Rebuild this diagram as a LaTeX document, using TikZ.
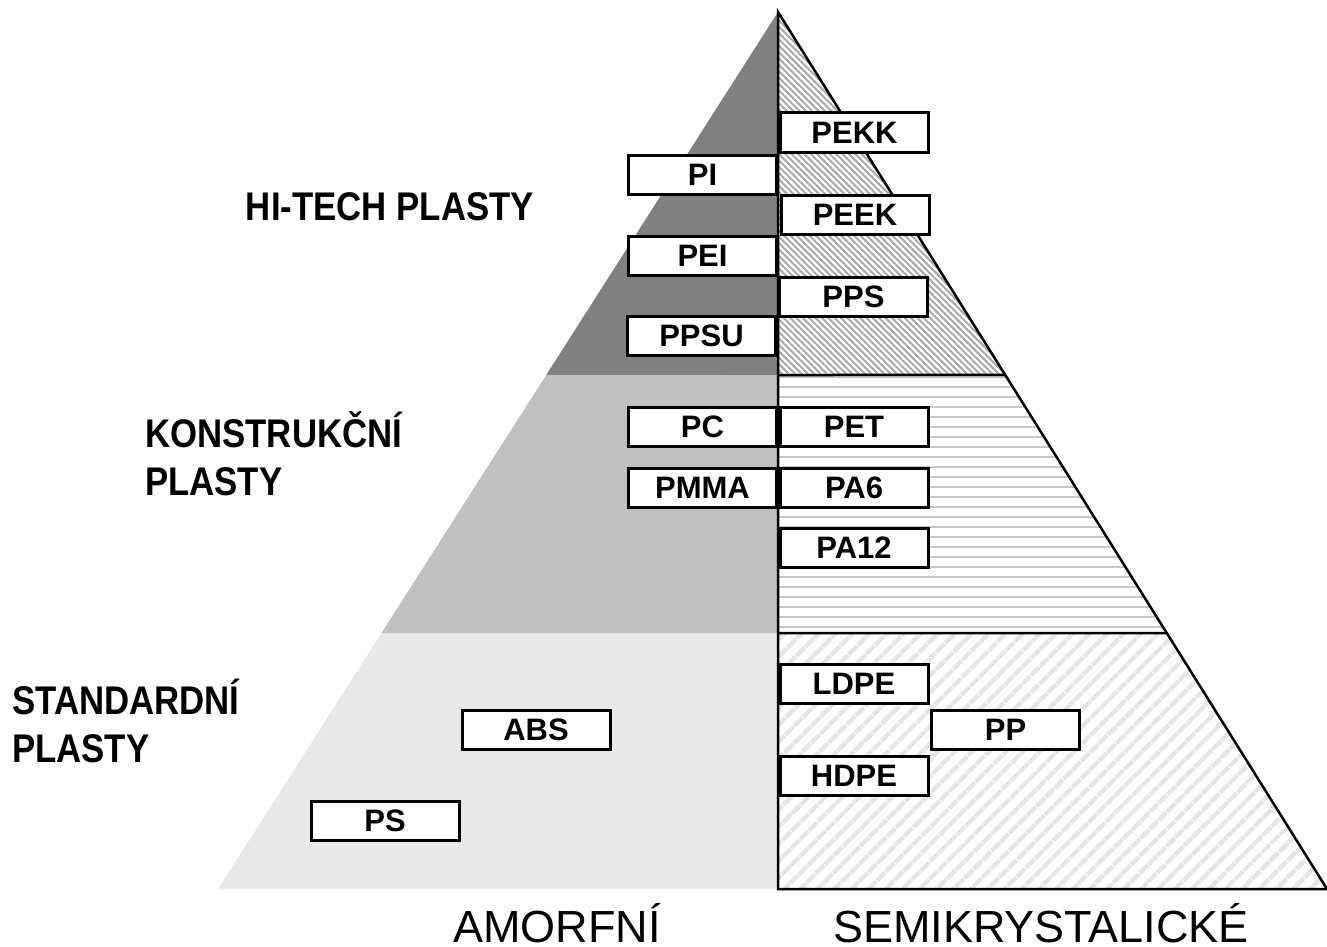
\documentclass[tikz,border=0pt]{standalone}
\usepackage{fontspec}
\setmainfont{Liberation Sans}
\usetikzlibrary{patterns.meta,calc}

\definecolor{hitech}{HTML}{808080}
\definecolor{konstr}{HTML}{C0C0C0}
\definecolor{standard}{HTML}{E8E8E8}
\definecolor{hatchdark}{HTML}{A8A8A8}
\definecolor{hatchmid}{HTML}{C8C8C8}
\definecolor{hatchlight}{HTML}{E4E4E4}

\begin{document}
\begin{tikzpicture}[x=1pt,y=-1pt,
    plastbox/.style={draw,line width=3pt,fill=white,minimum width=148pt,minimum height=39pt,
      inner sep=0pt,font=\fontsize{31}{34}\selectfont\bfseries},
    grouplabel/.style={font=\fontsize{40}{48}\selectfont\bfseries,xscale=0.87,align=left,inner sep=0pt},
    axislabel/.style={font=\fontsize{45}{50}\selectfont,inner sep=0pt,anchor=base}]
        \useasboundingbox (0,0) rectangle (1327,947);
        \coordinate (apex) at (778,12);
        \coordinate (bl) at (218,889);
        \coordinate (bm) at (778,889);
        \coordinate (br) at (1327,889);
        \coordinate (l1) at ($(apex)!0.4139!(bl)$);
        \coordinate (l2) at ($(apex)!0.7081!(bl)$);
        \coordinate (r1) at ($(apex)!0.4139!(br)$);
        \coordinate (r2) at ($(apex)!0.7081!(br)$);
        \coordinate (m1) at (778,375);
        \coordinate (m2) at (778,633);
        % amorfni
        \fill[hitech] (apex) -- (l1) -- (m1) -- cycle;
        \fill[konstr] (l1) -- (l2) -- (m2) -- (m1) -- cycle;
        \fill[standard] (l2) -- (bl) -- (bm) -- (m2) -- cycle;
        % semikrystalicke
        \fill[pattern={Lines[angle=-45,distance=4.5pt,line width=2pt]},pattern color=hatchdark]
            (apex) -- (r1) -- (m1) -- cycle;
        \fill[pattern={Lines[angle=0,distance=10pt,line width=2.5pt]},pattern color=hatchmid]
            (m1) -- (r1) -- (r2) -- (m2) -- cycle;
        \fill[pattern={Lines[angle=45,distance=13pt,line width=5pt]},pattern color=hatchlight]
            (m2) -- (r2) -- (br) -- (bm) -- cycle;
        \draw[line width=2.5pt] (apex) -- (bm) -- (br) -- cycle;
        \draw[line width=2.5pt] (m1) -- (r1);
        \draw[line width=2.5pt] (m2) -- (r2);
        % boxes
        \node[plastbox] (pekk) at (854.5,132.5) {PEKK};
        \node[plastbox] (pi) at (702.5,175) {PI};
        \node[plastbox] (peek) at (855,214.5) {PEEK};
        \node[plastbox] (pei) at (702.5,255.5) {PEI};
        \node[plastbox] (pps) at (853.5,296.5) {PPS};
        \node[plastbox] (ppsu) at (701.5,335.5) {PPSU};
        \node[plastbox] (pc) at (702.5,427) {PC};
        \node[plastbox] (pet) at (854,427) {PET};
        \node[plastbox] (pmma) at (702.5,488) {PMMA};
        \node[plastbox] (pa6) at (854,488) {PA6};
        \node[plastbox] (pa12) at (854,548) {PA12};
        \node[plastbox] (ldpe) at (854,684) {LDPE};
        \node[plastbox] (pp) at (1005.5,730) {PP};
        \node[plastbox] (hdpe) at (854,776) {HDPE};
        \node[plastbox] (abs) at (536,730) {ABS};
        \node[plastbox] (ps) at (385,820.5) {PS};
        % labels
        \node[grouplabel] (hitechlabel) at (390,207) {HI-TECH PLASTY};
        \node[grouplabel,anchor=west] (konstrlabel) at (145,454) {KONSTRUKČNÍ\\PLASTY};
        \node[grouplabel,anchor=west] (standardlabel) at (12,721) {STANDARDNÍ\\PLASTY};
        \node[axislabel] (amorfni) at (557,942) {AMORFNÍ};
        \node[axislabel] (semikryst) at (1041,942) {SEMIKRYSTALICKÉ};
    \end{tikzpicture}
\end{document}
